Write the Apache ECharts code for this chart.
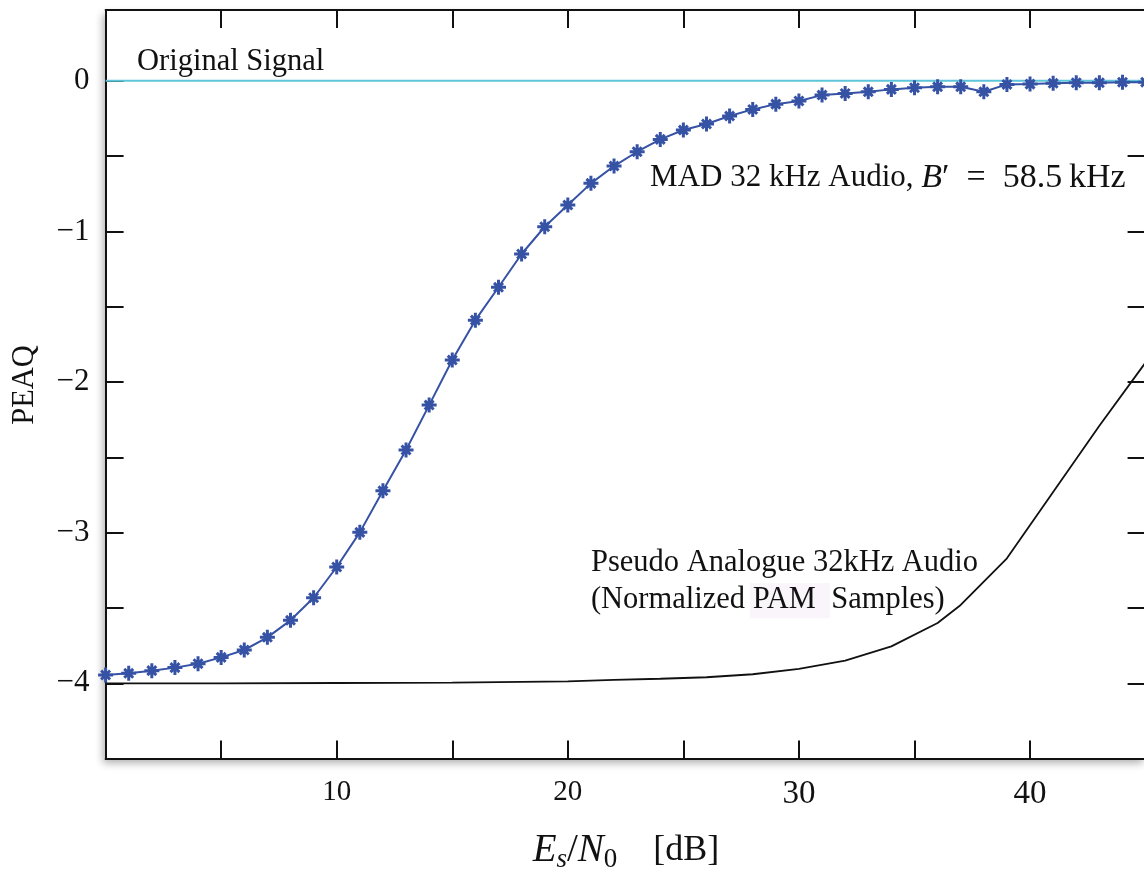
<!DOCTYPE html>
<html>
<head>
<meta charset="utf-8">
<script src="https://cdn.jsdelivr.net/npm/echarts@6/dist/echarts.min.js"></script>
<style>
  html, body { margin: 0; padding: 0; background: #fff; }
  #chart { width: 1144px; height: 869px; }
</style>
</head>
<body>
<div id="chart"></div>
<script>
// Es/N0 grid (dB) for the MAD curve
const madSnr = [0,1,2,3,4,5,6,7,8,9,10,11,12,13,14,15,16,17,18,19,20,21,22,23,24,25,26,27,28,29,30,31,32,33,34,35,36,37,38,39,40,41,42,43,44,45];
// PEAQ of the MAD 32 kHz audio (B' = 58.5 kHz)
const madPeaq = [-3.945,-3.934,-3.916,-3.896,-3.870,-3.828,-3.779,-3.695,-3.582,-3.432,-3.228,-2.998,-2.722,-2.451,-2.153,-1.854,-1.589,-1.371,-1.150,-0.969,-0.825,-0.681,-0.566,-0.471,-0.389,-0.327,-0.287,-0.234,-0.190,-0.155,-0.134,-0.095,-0.084,-0.073,-0.057,-0.046,-0.040,-0.040,-0.073,-0.024,-0.022,-0.017,-0.013,-0.013,-0.009,-0.009];
// Pseudo analogue (normalized PAM samples)
const pamSnr = [0,5,10,15,20,22,24,26,28,30,32,34,36,37,39,41,43,45];
const pamPeaq = [-4.0,-4.0,-3.998,-3.995,-3.987,-3.978,-3.97,-3.96,-3.94,-3.905,-3.85,-3.755,-3.60,-3.48,-3.17,-2.73,-2.29,-1.87];
// Reference (original signal)
const origSnr = [0,45];
const origPeaq = [0,0];

const xTicks = [10,20,30,40];
const yTicks = [0,-1,-2,-3,-4];

const SERIF = 'Liberation Serif';
const BLUE = '#3652a5';
const CYAN = '#5ec4d9';

// eight-armed asterisk marker
const ASTERISK = 'path://M0 40L100 40L100 60L0 60Z M40 0L60 0L60 100L40 100Z ' +
  'M27.3 13.2L86.8 72.7L72.7 86.8L13.2 27.3Z M13.2 72.7L72.7 13.2L86.8 27.3L27.3 86.8Z';

const pairs = (xs, ys) => xs.map((x, i) => [x, ys[i]]);

const tickStyle = { show: true, inside: true, length: 18, lineStyle: { color: '#111', width: 2 } };
const lineStyle = { show: true, onZero: false, lineStyle: { color: '#111', width: 2 } };

const chart = echarts.init(document.getElementById('chart'), null, { renderer: 'canvas' });

chart.setOption({
  animation: false,
  backgroundColor: '#fff',
  grid: {
    left: 105.6, width: 1040, top: 10, height: 748.6,
    outerBoundsMode: 'none', containLabel: false,
    show: true, backgroundColor: '#fff', borderWidth: 0,
    shadowColor: 'rgba(0,0,0,0.32)', shadowBlur: 8, shadowOffsetX: -3, shadowOffsetY: 4
  },
  xAxis: [
    {
      type: 'value', position: 'bottom', min: 0, max: 45, interval: 5,
      axisLine: lineStyle, axisTick: tickStyle, splitLine: { show: false },
      axisLabel: {
        margin: 19, color: '#111', fontFamily: SERIF,
        formatter: v => xTicks.includes(v) ? (v < 30 ? '{s|' + v + '}' : '{l|' + v + '}') : '',
        rich: { s: { fontSize: 29, fontFamily: SERIF, color: '#111' }, l: { fontSize: 33, fontFamily: SERIF, color: '#111' } }
      }
    },
    {
      type: 'value', position: 'top', min: 0, max: 45, interval: 5,
      axisLine: lineStyle, axisTick: tickStyle, splitLine: { show: false }, axisLabel: { show: false }
    }
  ],
  yAxis: [
    {
      type: 'value', position: 'left', min: -4.5, max: 0.47, interval: 0.5,
      axisLine: lineStyle, axisTick: tickStyle, splitLine: { show: false },
      axisLabel: {
        margin: 16, color: '#111', fontFamily: SERIF, fontSize: 31,
        formatter: v => yTicks.includes(v) ? (v < 0 ? '\u2212' + Math.abs(v) : String(v)) : ''
      }
    },
    {
      type: 'value', position: 'right', min: -4.5, max: 0.47, interval: 0.5,
      axisLine: lineStyle, axisTick: tickStyle, splitLine: { show: false }, axisLabel: { show: false }
    }
  ],
  series: [
    {
      name: 'Original Signal', type: 'line', data: pairs(origSnr, origPeaq),
      symbol: 'none', lineStyle: { color: CYAN, width: 2 }, z: 2
    },
    {
      name: 'Pseudo Analogue 32kHz Audio', type: 'line', data: pairs(pamSnr, pamPeaq),
      symbol: 'none', lineStyle: { color: '#111', width: 1.8 }, z: 3
    },
    {
      name: 'MAD 32 kHz Audio', type: 'line', data: pairs(madSnr, madPeaq),
      symbol: ASTERISK, symbolSize: 15, showAllSymbol: true,
      itemStyle: { color: BLUE }, lineStyle: { color: BLUE, width: 2 }, z: 4
    }
  ]
});

// annotations anchored in data coordinates
const px = p => chart.convertToPixel({ gridIndex: 0 }, p);
const pOrig = px([1.36, 0.126]);
const pMad = px([23.56, -0.644]);
const pPam = px([21.0, -3.322]);

chart.setOption({
  graphic: [
    {
      type: 'rect', z: 5, silent: true,
      shape: { x: pPam[0] + 159, y: pPam[1] + 2, width: 80, height: 35 },
      style: { fill: '#f9f5fa' }
    },
    {
      type: 'text', z: 10, x: pOrig[0], y: pOrig[1],
      style: { text: 'Original Signal', font: '30.5px "' + SERIF + '"', fill: '#111', align: 'left', verticalAlign: 'middle' }
    },
    {
      type: 'text', z: 10, x: pMad[0], y: pMad[1],
      style: {
        text: '{t|MAD 32 kHz Audio, }{i|B}{p|\u2032}{m|\u2002=\u200258.5\u2009kHz}',
        align: 'left', verticalAlign: 'middle',
        rich: {
          t: { fontSize: 31, fontFamily: SERIF, fill: '#111' },
          i: { fontSize: 34, fontFamily: SERIF, fontStyle: 'italic', fill: '#111' },
          p: { fontSize: 34, fontFamily: SERIF, fill: '#111' },
          m: { fontSize: 34, fontFamily: SERIF, fill: '#111' }
        }
      }
    },
    {
      type: 'text', z: 10, x: pPam[0], y: pPam[1],
      style: {
        text: 'Pseudo Analogue 32kHz Audio\n(Normalized PAM  Samples)',
        font: '30.5px "' + SERIF + '"', lineHeight: 37, fill: '#111', align: 'left', verticalAlign: 'middle'
      }
    },
    {
      type: 'text', z: 10, x: 24.7, y: 385, rotation: Math.PI / 2,
      style: { text: 'PEAQ', font: '30.5px "' + SERIF + '"', fill: '#111', align: 'center', verticalAlign: 'middle' }
    },
    {
      type: 'text', z: 10, x: 626, y: 851,
      style: {
        text: '{e|E}{sub|s}{sl|/}{e|N}{sub0|0}{n|\u2002\u2002[dB]}',
        align: 'center', verticalAlign: 'middle',
        rich: {
          e: { fontSize: 39, fontFamily: SERIF, fontStyle: 'italic', fill: '#111', lineHeight: 44 },
          sl: { fontSize: 39, fontFamily: SERIF, fill: '#111', lineHeight: 44 },
          n: { fontSize: 36, fontFamily: SERIF, fill: '#111', lineHeight: 44 },
          sub: { fontSize: 27, fontFamily: SERIF, fontStyle: 'italic', fill: '#111', lineHeight: 44, verticalAlign: 'bottom' },
          sub0: { fontSize: 27, fontFamily: SERIF, fill: '#111', lineHeight: 44, verticalAlign: 'bottom' }
        }
      }
    }
  ]
});
</script>
</body>
</html>
